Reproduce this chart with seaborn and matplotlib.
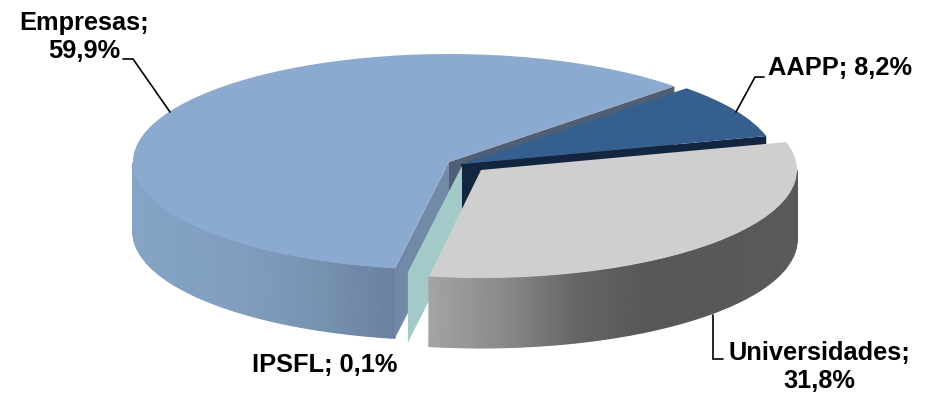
import numpy as np
import matplotlib
matplotlib.use("Agg")
import matplotlib.pyplot as plt
import seaborn as sns

# --- data ---
categories = ["Empresas", "IPSFL", "Universidades", "AAPP"]
values = [59.9, 0.1, 31.8, 8.2]

# --- style / layout ---
W, H = 927, 394
RX, RY, DEPTH = 316.0, 108.0, 70.0
START = 44.5
apex = {"Empresas": (449, 162), "IPSFL": (462, 166), "Universidades": (481, 170), "AAPP": (461, 164)}
top_col = {"Empresas": "#8CA9CF", "IPSFL": "#A3C9C9", "Universidades": "#CFCFCF", "AAPP": "#345F8E"}
rim_stops = {"Empresas": ["#86A4C6", "#82A0C2", "#7F9BBC", "#7690AF", "#6B819F"],
             "Universidades": ["#A4A4A4", "#8A8A8A", "#666666", "#575757", "#585858", "#5A5A5A"]}

sns.set_theme(style="white")
plt.rcParams["font.family"] = ["Liberation Sans", "DejaVu Sans"]

fig = plt.figure(figsize=(W / 100, H / 100), dpi=100)
ax = fig.add_axes([0, 0, 1, 1])


def to_data(px, py):
    return px / RX, (H - py) / RY


# slice angle ranges, counter-clockwise from START
edges = START + np.cumsum([0] + values) * 3.6
span = {c: (edges[i], edges[i + 1]) for i, c in enumerate(categories)}


def rim_point(cat, deg):
    cx, cy = apex[cat]
    t = np.radians(deg)
    return cx + RX * np.cos(t), cy - RY * np.sin(t)


def cut_face(cat, deg, color, z):
    x0, y0 = apex[cat]
    x1, y1 = rim_point(cat, deg)
    xs, ys = to_data(np.array([x0, x1, x1, x0]), np.array([y0, y1, y1 + DEPTH, y0 + DEPTH]))
    ax.fill(xs, ys, color=color, lw=0, zorder=z)


def rim(cat, z):
    a, b = span[cat]
    a, b = max(a, 180), min(b, 360)
    th = np.linspace(a, b, 120)
    px, py = rim_point(cat, th)
    X, Y0 = to_data(px, py)
    _, Y1 = to_data(px, py + DEPTH)
    cmap = sns.blend_palette(rim_stops[cat], as_cmap=True)
    ax.pcolormesh(np.vstack([X, X]), np.vstack([Y0, Y1]), np.vstack([X, X]),
                  cmap=cmap, shading="gouraud", zorder=z)


def top(cat, z):
    i = categories.index(cat)
    cx, cy = to_data(*apex[cat])
    wedges, _ = ax.pie([values[i] / 100], startangle=span[cat][0], normalize=False,
                       center=(cx, cy), radius=1, colors=[top_col[cat]],
                       wedgeprops=dict(linewidth=0))
    wedges[0].set_zorder(z)


# Empresas
cut_face("Empresas", span["Empresas"][0], "#505F75", 1)
rim("Empresas", 2)
cut_face("Empresas", span["Empresas"][1], "#7389A8", 3)
top("Empresas", 4)
# AAPP
cut_face("AAPP", span["AAPP"][0], "#14253F", 5)
top("AAPP", 6)
# IPSFL
cut_face("IPSFL", span["IPSFL"][0], top_col["IPSFL"], 7)
top("IPSFL", 8)
# Universidades
rim("Universidades", 9)
top("Universidades", 10)

# leader lines
leaders = [[(123, 59), (133, 59), (170, 112)],
           [(764, 77), (755, 77), (736, 112)],
           [(713, 315), (713, 359), (723, 359)]]
for pts in leaders:
    p = np.array(pts, float)
    lx, ly = to_data(p[:, 0], p[:, 1])
    ax.plot(lx, ly, color="black", lw=1.2, zorder=11, solid_joinstyle="miter")

# labels
lab_pos = {"Empresas": (84, 37, True), "AAPP": (840, 68, False),
           "Universidades": (819, 367, True), "IPSFL": (325, 365, False)}
for c, v in zip(categories, values):
    px, py, wrap = lab_pos[c]
    s = f"{c};" + ("\n" if wrap else " ") + f"{v:.1f}".replace(".", ",") + "%"
    tx, ty = to_data(px, py)
    ax.text(tx, ty, s, ha="center", va="center", fontsize=18.3, fontweight="bold",
            color="black", linespacing=1.25, zorder=12)

ax.set_aspect("auto")
ax.set_xlim(0, W / RX)
ax.set_ylim(0, H / RY)
ax.axis("off")
fig.patch.set_facecolor("white")
fig.savefig("out.png", dpi=100)
